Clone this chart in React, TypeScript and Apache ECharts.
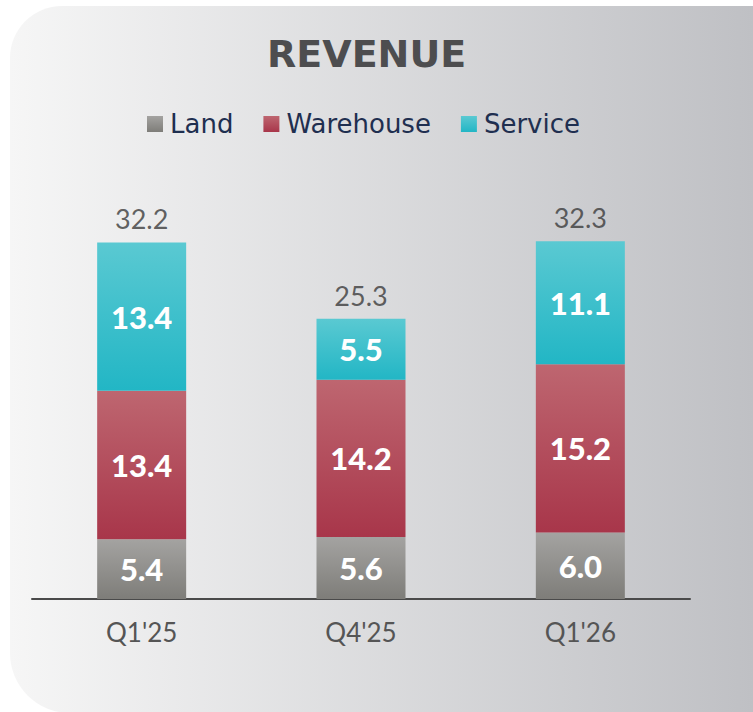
import React, { useEffect, useRef } from "react";
import * as echarts from "echarts";

const categories = ["Q1'25", "Q4'25", "Q1'26"];
const land = [5.4, 5.6, 6.0];
const warehouse = [13.4, 14.2, 15.2];
const service = [13.4, 5.5, 11.1];
const totals = [32.2, 25.3, 32.3];
const seriesNames = ["Land", "Warehouse", "Service"];

const grad = (top: string, bottom: string) =>
  new echarts.graphic.LinearGradient(0, 0, 0, 1, [
    { offset: 0, color: top },
    { offset: 1, color: bottom },
  ]);

export default function App() {
  const ref = useRef<HTMLDivElement>(null);
  useEffect(() => {
    if (!ref.current) return;
    const chart = echarts.init(ref.current, null, { renderer: "svg" });
    const inside = {
      show: true,
      position: "inside" as const,
      color: "#ffffff",
      fontFamily: "Lato",
      fontWeight: 900 as any,
      fontSize: 31,
      formatter: (p: any) => Number(p.value).toFixed(1),
    };
    chart.setOption({
      animation: false,
      title: {
        text: "REVENUE",
        left: 262,
        top: 30,
        textStyle: {
          fontFamily: "DejaVu Sans",
          fontWeight: "bold",
          fontSize: 38,
          color: "#4d4d4f",
        },
      },
      legend: {
        data: seriesNames,
        left: 142,
        top: 106,
        itemWidth: 16,
        itemHeight: 16,
        itemGap: 30,
        icon: "rect",
        textStyle: {
          fontFamily: "DejaVu Sans",
          fontSize: 26,
          color: "#1f2f50",
          padding: [0, 0, 0, 2],
        },
      },
      grid: { left: 32, right: 63, top: 156, bottom: 113, containLabel: false },
      xAxis: {
        type: "category",
        data: categories,
        axisLine: { show: true, lineStyle: { color: "#4a4a4a", width: 2 } },
        axisTick: { show: false },
        axisLabel: {
          margin: 20,
          fontFamily: "Lato",
          fontSize: 26,
          color: "#555555",
        },
      },
      yAxis: {
        type: "value",
        min: 0,
        max: 40,
        show: false,
        splitLine: { show: false },
      },
      series: [
        {
          name: "Land",
          type: "bar",
          stack: "rev",
          barWidth: 89,
          data: land,
          itemStyle: { color: grad("#a4a3a1", "#7e7d79") },
          label: inside,
        },
        {
          name: "Warehouse",
          type: "bar",
          stack: "rev",
          barWidth: 89,
          data: warehouse,
          itemStyle: { color: grad("#be6670", "#a8364a") },
          label: inside,
        },
        {
          name: "Service",
          type: "bar",
          stack: "rev",
          barWidth: 89,
          data: service,
          itemStyle: { color: grad("#5ac9d2", "#22b6c5") },
          label: inside,
        },
        {
          name: "Total",
          type: "scatter",
          data: totals,
          symbolSize: 0,
          silent: true,
          label: {
            show: true,
            position: "top",
            distance: 10,
            fontFamily: "Lato",
            fontSize: 27,
            color: "#3a3a3a",
            formatter: (p: any) => Number(p.value).toFixed(1),
          },
        },
      ],
    });
    return () => chart.dispose();
  }, []);

  return (
    <div
      style={{
        position: "fixed",
        left: 0,
        top: 0,
        width: 753,
        height: 712,
        overflow: "hidden",
        background: "#ffffff",
      }}
    >
      <div
        style={{
          position: "absolute",
          left: 10,
          top: 6,
          width: 800,
          height: 707,
          borderRadius: "52px 48px 0 60px",
          background: "linear-gradient(to right, #f6f6f6 0px, #bfc0c4 743px)",
        }}
      />
      <div ref={ref} style={{ position: "absolute", left: 0, top: 0, width: 753, height: 712 }} />
    </div>
  );
}
